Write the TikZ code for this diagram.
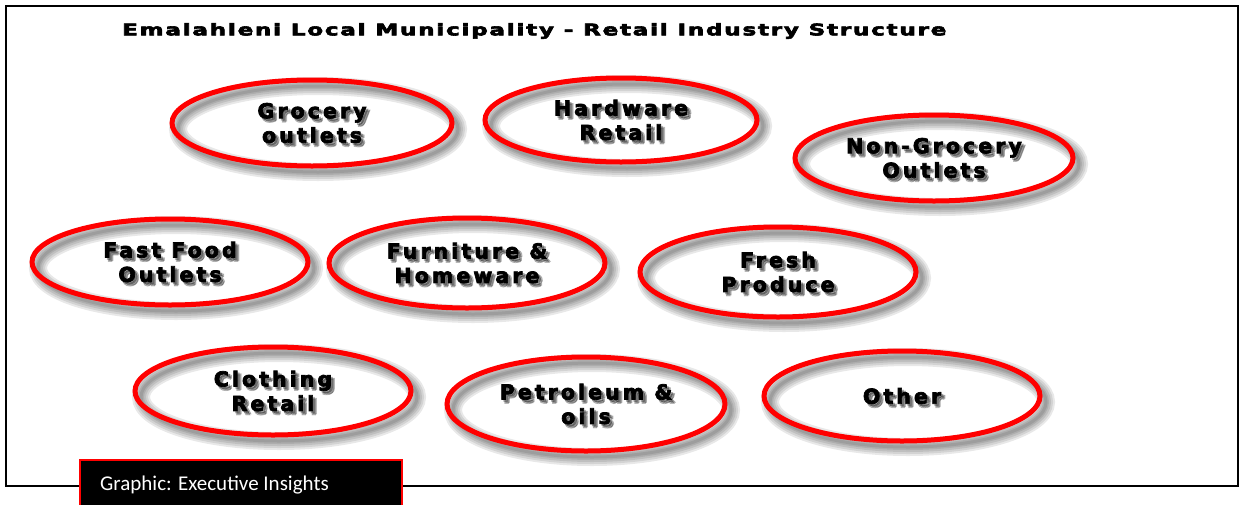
\documentclass[tikz,border=0pt]{standalone}
\usepackage{fontspec}
\usetikzlibrary{shapes.geometric}
\newfontfamily\blk[FakeBold=3.5,LetterSpace=15]{DejaVu Sans Bold}
\newfontfamily\ttl[FakeBold=3.5,LetterSpace=8]{DejaVu Sans Bold}
\newfontfamily\calfont{Carlito}
\tikzset{
  oval/.style={ellipse, draw=red, line width=5pt, inner sep=0pt, outer sep=0pt},
  lbl/.style={align=center, font=\blk\fontsize{20.5}{24.5}\selectfont, inner sep=0pt},
  lblshadow/.style={lbl, text=black, opacity=0.22},
  ringshadow/.style={draw=black, opacity=0.09}
}
\newcommand\retail[6]{%
  \foreach \w in {18,14,10,6,3}
    \draw[ringshadow, line width=\w pt] (#2+6,#3+6) ellipse [x radius=#4, y radius=#5];
  \node[oval, minimum width={2*#4pt}, minimum height={2*#5pt}] (#1) at (#2,#3) {};
  \foreach \dx/\dy in {2/2,3/4,4/3}
    \node[lblshadow] at ([shift={(\dx,\dy)}]#1) {#6};
  \node[lbl] (#1-t) at (#1) {#6};
}
\begin{document}
\begin{tikzpicture}[x=1pt,y=-1pt]
\useasboundingbox (0,0) rectangle (1240,504);
\fill[white] (0,0) rectangle (1240,504);
\draw[line width=2pt] (6,6) rectangle (1238,486);
\node[anchor=west, inner sep=0pt, font=\ttl\fontsize{16}{18}\selectfont] (title) at (122,31)
  {\resizebox{824pt}{\height}{Emalahleni Local Municipality - Retail Industry Structure}};
\retail{groc}{312}{123}{140}{43}{Grocery\\outlets}
\retail{hard}{621}{120}{136}{42}{Hardware\\Retail}
\retail{nongroc}{934}{158}{139}{43}{Non-Grocery\\Outlets}
\retail{fast}{170}{262}{138}{43}{Fast Food\\Outlets}
\retail{furn}{467}{263}{138}{45}{Furniture \&\\Homeware}
\retail{fresh}{778}{272}{138}{45}{Fresh\\Produce}
\retail{cloth}{273}{391}{138}{44}{Clothing\\Retail}
\retail{petro}{586}{404}{139}{47}{Petroleum \&\\oils}
\retail{other}{902}{396}{138}{45}{Other}
\node[fill=black, draw=red, line width=1.5pt, minimum width=322pt, minimum height=52pt, anchor=north west, inner sep=0pt] (credit) at (79,459) {};
\node[anchor=west, text=white, inner sep=0pt, font=\calfont\fontsize{21}{24}\selectfont] (credittext) at (100,485) {Graphic: Executive Insights};
\end{tikzpicture}
\end{document}
